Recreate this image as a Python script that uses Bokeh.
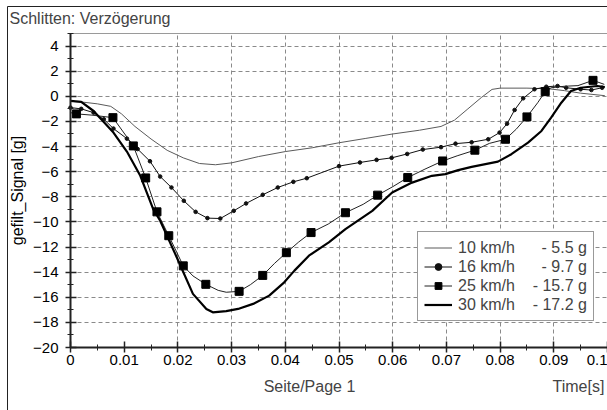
from bokeh.plotting import figure
from bokeh.models import (Range1d, SingleIntervalTicker, FixedTicker, CustomJSTickFormatter,
                          Legend, LegendItem, Label, Grid)
from bokeh.embed import file_html
from bokeh.resources import INLINE

# ---------------- data ----------------
t10 = [0, 0.002, 0.005, 0.0075, 0.0095, 0.012, 0.015, 0.018, 0.021, 0.024, 0.027, 0.030,
       0.035, 0.040, 0.045, 0.050, 0.055, 0.060, 0.065, 0.069, 0.0715, 0.074, 0.0765,
       0.0785, 0.080, 0.085, 0.089, 0.092, 0.095, 0.0995]
g10 = [-0.4, -0.45, -0.6, -0.8, -1.4, -2.4, -3.4, -4.3, -4.9, -5.35, -5.45, -5.3,
       -4.8, -4.4, -4.1, -3.7, -3.35, -3.0, -2.7, -2.4, -1.9, -1.0, -0.1,
       0.55, 0.65, 0.65, 0.6, 0.45, 0.25, 0.05]

t16 = [0, 0.002, 0.0043, 0.0062, 0.008, 0.0105, 0.0125, 0.0148, 0.0167, 0.0188, 0.0211,
       0.0233, 0.0255, 0.0279, 0.0304, 0.0327, 0.0358, 0.0386, 0.0415, 0.044, 0.050,
       0.0539, 0.057, 0.0598, 0.0627, 0.0656, 0.069, 0.0717, 0.0747, 0.0778, 0.0799,
       0.0813, 0.0827, 0.0843, 0.0864, 0.0886, 0.0907, 0.0923, 0.095, 0.097, 0.099]
g16 = [-0.9, -1.0, -1.3, -1.83, -2.57, -3.37, -4.2, -5.17, -6.39, -7.26, -8.32,
       -9.2, -9.7, -9.73, -9.12, -8.53, -7.84, -7.26, -6.81, -6.52, -5.56,
       -5.27, -5.06, -4.9, -4.59, -4.24, -4.05, -3.77, -3.66, -3.42, -2.89,
       -2.18, -1.09, -0.16, 0.56, 0.76, 0.82, 0.68, 0.56, 0.5, 0.68]

t25 = [0, 0.0011, 0.004, 0.0079, 0.0117, 0.014, 0.0161, 0.0183, 0.021, 0.0228, 0.0252,
       0.0275, 0.029, 0.0314, 0.0335, 0.0358, 0.0380, 0.0402, 0.0425, 0.0448, 0.048,
       0.0512, 0.0545, 0.0572, 0.060, 0.0628, 0.066, 0.0693, 0.072, 0.0753, 0.078,
       0.081, 0.083, 0.085, 0.087, 0.0884, 0.0895, 0.092, 0.0945, 0.0973, 0.0994]
g25 = [-1.3, -1.4, -1.5, -1.7, -3.95, -6.5, -9.2, -11.1, -13.5, -14.3, -14.97,
       -15.45, -15.6, -15.53, -15.0, -14.26, -13.3, -12.45, -11.6, -10.85, -10.17,
       -9.27, -8.6, -7.87, -7.2, -6.47, -5.8, -5.15, -4.74, -4.29, -3.75,
       -3.42, -2.62, -1.64, -0.51, 0.37, 0.68, 0.8, 0.85, 1.27, 0.95]
t25_marks = [0.0011, 0.0079, 0.0117, 0.014, 0.0161, 0.0183, 0.021, 0.0252, 0.0314, 0.0358,
             0.0402, 0.0448, 0.0512, 0.0572, 0.0628, 0.0693, 0.0753, 0.081, 0.085, 0.0884,
             0.0973]
g25_marks = [-1.4, -1.7, -3.95, -6.5, -9.2, -11.1, -13.5, -14.97, -15.53, -14.26,
             -12.45, -10.85, -9.27, -7.87, -6.47, -5.15, -4.29, -3.42, -1.64, 0.37,
             1.27]

t30 = [0, 0.002, 0.0043, 0.008, 0.0105, 0.013, 0.0154, 0.0167, 0.0198, 0.0228, 0.0253,
       0.0265, 0.029, 0.0312, 0.034, 0.037, 0.0398, 0.0417, 0.0444, 0.0481, 0.0512,
       0.0562, 0.0599, 0.0636, 0.0673, 0.0698, 0.0722, 0.0747, 0.0796, 0.0821, 0.0852,
       0.0877, 0.0895, 0.0914, 0.0932, 0.095, 0.0981, 0.0995]
g30 = [-0.37, -0.45, -1.17, -2.89, -4.4, -6.33, -8.98, -9.91, -12.83, -15.73, -16.93,
       -17.2, -17.1, -16.93, -16.53, -15.87, -14.81, -13.88, -12.69, -11.63, -10.57,
       -9.12, -7.66, -6.87, -6.33, -6.2, -5.88, -5.62, -5.2, -4.61, -3.69,
       -2.76, -1.7, -0.51, 0.42, 0.68, 0.82, 0.74]

NB = "\u00a0"
legend_labels = ["10 km/h" + NB * 6 + "- 5.5 g",
                 "16 km/h" + NB * 6 + "- 9.7 g",
                 "25 km/h" + NB * 4 + "- 15.7 g",
                 "30 km/h" + NB * 4 + "- 17.2 g"]
x_grid_ticks = [0.02, 0.03, 0.04, 0.05, 0.06, 0.07, 0.08, 0.09, 0.1]
title_text = "Schlitten: Verzögerung"
y_label = "gefilt_Signal [g]"
page_label = "Seite/Page 1"
time_label = "Time[s]"
x_lo, x_hi = 0, 0.1
y_lo, y_hi = -20, 5

# ---------------- layout (page pixels -> data) ----------------
W, H = 607, 410
X0_PX, XSCALE = 70.0, 5370.0        # page x of t=0, px per second
YB_PX, YSCALE = 347.0, 12.56        # page y of g=-20, px per g


def tx(px):
    return (px - X0_PX) / XSCALE


def ty(py):
    return y_lo + (YB_PX - py) / YSCALE


FONT = "Liberation Sans"

p = figure(width=W, height=H, output_backend="svg", toolbar_location=None,
           x_range=Range1d(tx(0), tx(W)), y_range=Range1d(ty(H), ty(0)),
           min_border_left=0, min_border_right=0, min_border_top=0, min_border_bottom=0)
p.outline_line_color = None
p.background_fill_color = "white"
p.border_fill_color = "white"
p.xgrid.visible = False
p.ygrid.visible = False

p.xaxis.fixed_location = y_lo
p.xaxis.bounds = (x_lo, x_hi)
p.yaxis.fixed_location = x_lo
p.yaxis.bounds = (y_lo, y_hi)
p.xaxis.ticker = SingleIntervalTicker(interval=0.01, num_minor_ticks=2)
p.xaxis.formatter = CustomJSTickFormatter(code="return (Math.round(tick*100)/100).toString();")
p.yaxis.ticker = SingleIntervalTicker(interval=2, num_minor_ticks=2)

for ax in (p.xaxis[0], p.yaxis[0]):
    ax.axis_line_width = 2
    ax.axis_line_color = "#222"
    ax.major_tick_in = 6
    ax.major_tick_out = 5
    ax.minor_tick_in = 3
    ax.minor_tick_out = 3
    ax.major_tick_line_width = 1.5
    ax.major_tick_line_color = "#222"
    ax.minor_tick_line_color = "#222"
    ax.major_label_text_font = FONT
    ax.major_label_text_font_size = "15px"
    ax.major_label_text_color = "black"
    ax.axis_label_text_font = FONT
    ax.axis_label_text_font_size = "16px"
    ax.axis_label_text_font_style = "normal"
    ax.axis_label_text_color = "black"

p.xaxis.major_label_standoff = 2
p.yaxis.major_label_standoff = 7
p.yaxis.axis_label = y_label
p.yaxis.axis_label_standoff = 4

# dashed grid
xg = Grid(dimension=0, ticker=FixedTicker(ticks=x_grid_ticks), bounds=(x_lo, x_hi),
          cross_bounds=(y_lo, y_hi), grid_line_color="#8a8a8a", grid_line_dash="4 3")
yg = Grid(dimension=1, ticker=SingleIntervalTicker(interval=2), bounds=(y_lo + 2, y_hi),
          cross_bounds=(x_lo, x_hi), grid_line_color="#8a8a8a", grid_line_dash="4 3")
# thin top edge of the plot area
tg = Grid(dimension=1, ticker=FixedTicker(ticks=[y_hi]), cross_bounds=(x_lo, x_hi),
          grid_line_color="#9a9a9a", grid_line_width=1)
# outer frame of the sheet (left and top edges)
frame_x = tx(6.5)
frame_y = ty(5.5)
fl = Grid(dimension=0, ticker=FixedTicker(ticks=[frame_x]), cross_bounds=(ty(H), frame_y),
          grid_line_color="#222", grid_line_width=1)
ft = Grid(dimension=1, ticker=FixedTicker(ticks=[frame_y]), cross_bounds=(frame_x, tx(W)),
          grid_line_color="#222", grid_line_width=1)
for g in (xg, yg, tg, fl, ft):
    p.add_layout(g)

r10 = p.line(t10, g10, line_color="#5a5a5a", line_width=1)
r16 = p.line(t16, g16, line_color="#111", line_width=1)
s16 = p.scatter(t16, g16, marker="circle", size=3.6, color="#111")
r25 = p.line(t25, g25, line_color="#222", line_width=1)
s25 = p.scatter(t25_marks, g25_marks, marker="square", size=8, color="#000")
r30 = p.line(t30, g30, line_color="#000", line_width=2.2)

legend = Legend(items=[LegendItem(label=legend_labels[0], renderers=[r10]),
                       LegendItem(label=legend_labels[1], renderers=[r16, s16]),
                       LegendItem(label=legend_labels[2], renderers=[r25, s25]),
                       LegendItem(label=legend_labels[3], renderers=[r30])],
                location=(417, H - 321))
legend.margin = 0
legend.padding = 6
legend.spacing = 0
legend.label_height = 19
legend.glyph_height = 17
legend.glyph_width = 28
legend.label_standoff = 6
legend.label_text_font = FONT
legend.label_text_font_size = "16px"
legend.border_line_color = "#333"
legend.border_line_width = 1
legend.background_fill_color = "white"
legend.background_fill_alpha = 1
p.add_layout(legend)

p.add_layout(Label(x=tx(9), y=ty(18), text=title_text, text_font=FONT,
                   text_font_size="16px", text_baseline="middle", text_align="left"))
p.add_layout(Label(x=tx(309), y=ty(386), text=page_label, text_font=FONT,
                   text_font_size="16px", text_baseline="middle", text_align="center"))
p.add_layout(Label(x=tx(552), y=ty(386), text=time_label, text_font=FONT,
                   text_font_size="16px", text_baseline="middle", text_align="left"))

open("out.html", "w").write(file_html(p, INLINE))
